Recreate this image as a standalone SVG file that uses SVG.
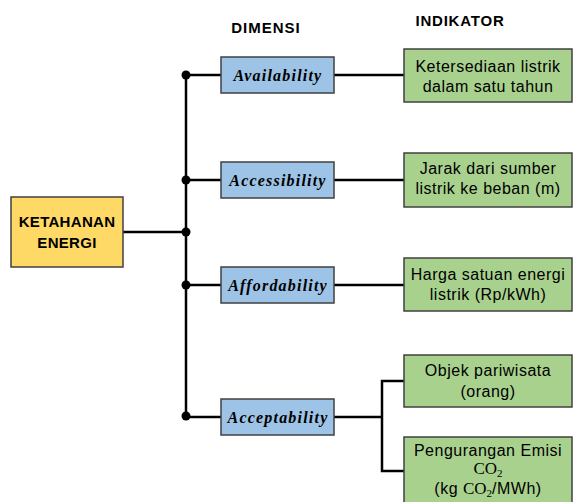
<svg xmlns="http://www.w3.org/2000/svg" width="573" height="502" viewBox="0 0 573 502">
<style>
.ln{stroke:#000;stroke-width:2.5;fill:none}
.dot{fill:#000}
.main{fill:#FFD966;stroke:#404040;stroke-width:1.5}
.dim{fill:#9DC3E6;stroke:#404040;stroke-width:1.5}
.ind{fill:#A9D18E;stroke:#404040;stroke-width:1.5}
.hdr{font-family:"Liberation Sans",Arial,sans-serif;font-weight:bold;font-size:15px;fill:#000;text-anchor:middle}
.mt{font-family:"Liberation Sans",Arial,sans-serif;font-weight:bold;font-size:15px;fill:#000;text-anchor:middle;letter-spacing:0.3px}
.dt{font-family:"Liberation Serif","Times New Roman",serif;font-weight:bold;font-style:italic;font-size:16px;fill:#000;text-anchor:middle;letter-spacing:1.2px}
.it{font-family:"Liberation Sans",Arial,sans-serif;font-size:16px;fill:#000;text-anchor:middle;letter-spacing:0.5px}
.sf{font-family:"Liberation Serif","Times New Roman",serif;letter-spacing:0}
</style>
<g id="headers">
<text class="hdr" x="266" y="33" letter-spacing="1">DIMENSI</text>
<text class="hdr" x="460" y="26" letter-spacing="0.8">INDIKATOR</text>
</g>
<g id="connectors">
<line class="ln" x1="186" y1="75" x2="186" y2="416"/>
<line class="ln" x1="123" y1="232" x2="186" y2="232"/>
<line class="ln" x1="186" y1="75" x2="221" y2="75"/>
<line class="ln" x1="186" y1="180" x2="221" y2="180"/>
<line class="ln" x1="186" y1="285" x2="221" y2="285"/>
<line class="ln" x1="186" y1="417" x2="221" y2="417"/>
<line class="ln" x1="334" y1="75" x2="404" y2="75"/>
<line class="ln" x1="334" y1="180" x2="404" y2="180"/>
<line class="ln" x1="334" y1="285" x2="404" y2="285"/>
<line class="ln" x1="334" y1="417" x2="382" y2="417"/>
<polyline class="ln" points="404,381 382,381 382,471 404,471"/>
<circle class="dot" cx="186" cy="75" r="4.5"/>
<circle class="dot" cx="186" cy="180" r="4.5"/>
<circle class="dot" cx="186" cy="232" r="4.5"/>
<circle class="dot" cx="186" cy="285" r="4.5"/>
<circle class="dot" cx="186" cy="416" r="4.5"/>
</g>
<g id="ketahanan">
<rect class="main" x="11" y="197" width="112" height="70"/>
<text class="mt" x="67" y="227">KETAHANAN</text>
<text class="mt" x="67" y="248">ENERGI</text>
</g>
<g id="availability">
<rect class="dim" x="221" y="57" width="113" height="36"/>
<text class="dt" x="278" y="81">Availability</text>
</g>
<g id="accessibility">
<rect class="dim" x="221" y="162" width="113" height="36"/>
<text class="dt" x="278" y="186">Accessibility</text>
</g>
<g id="affordability">
<rect class="dim" x="221" y="267" width="113" height="36"/>
<text class="dt" x="278" y="291">Affordability</text>
</g>
<g id="acceptability">
<rect class="dim" x="221" y="399" width="113" height="36"/>
<text class="dt" x="278" y="423">Acceptability</text>
</g>
<g id="ind1">
<rect class="ind" x="404" y="49" width="168" height="53"/>
<text class="it" x="488" y="72">Ketersediaan listrik</text>
<text class="it" x="488" y="92">dalam satu tahun</text>
</g>
<g id="ind2">
<rect class="ind" x="404" y="153" width="168" height="54"/>
<text class="it" x="488" y="174">Jarak dari sumber</text>
<text class="it" x="488" y="194">listrik ke beban (m)</text>
</g>
<g id="ind3">
<rect class="ind" x="404" y="258" width="168" height="53"/>
<text class="it" x="488" y="280">Harga satuan energi</text>
<text class="it" x="488" y="300">listrik (Rp/kWh)</text>
</g>
<g id="ind4">
<rect class="ind" x="404" y="355" width="168" height="52"/>
<text class="it" x="488" y="376">Objek pariwisata</text>
<text class="it" x="488" y="397">(orang)</text>
</g>
<g id="ind5">
<rect class="ind" x="404" y="437" width="168" height="70"/>
<text class="it" x="488" y="456">Pengurangan Emisi</text>
<text class="it" x="488" y="474"><tspan class="sf" font-size="17">CO</tspan><tspan class="sf" font-size="11" dy="3">2</tspan></text>
<text class="it" x="488" y="494">(kg <tspan class="sf" font-size="17">CO</tspan><tspan class="sf" font-size="11" dy="3">2</tspan><tspan dy="-3">/MWh)</tspan></text>
</g>
</svg>
